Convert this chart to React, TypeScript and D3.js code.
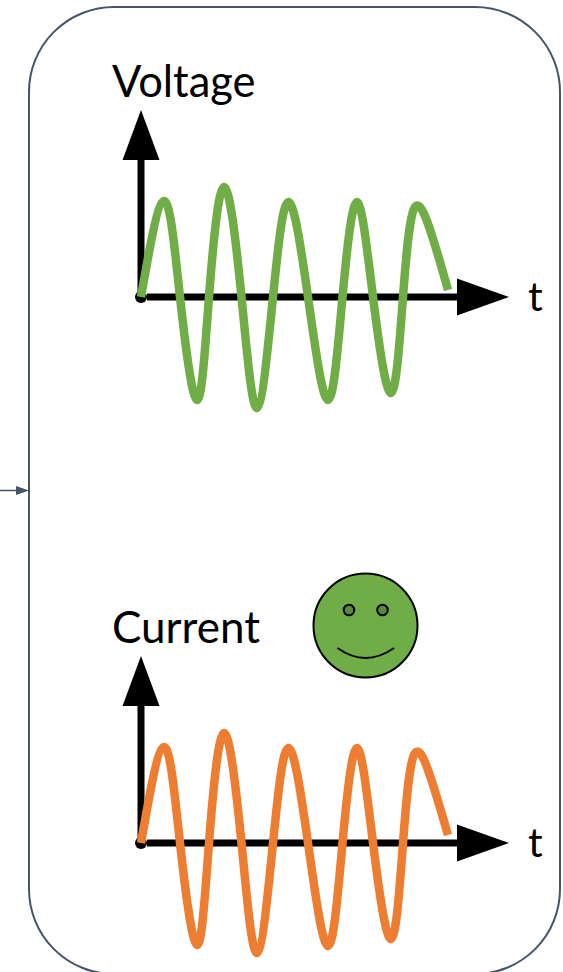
import React from "react";
import * as d3 from "d3";

// Wave samples: time offset and amplitude
const waveTime = [0, 23, 39, 56, 68, 83, 100.5, 116, 132, 147.5, 167, 187, 201.5, 216, 232, 250, 262, 274, 293, 307];
const voltageValues = [0, 96, 0, -103, 0, 110, 0, -111, 0, 95, 0, -103, 0, 95, 0, -96, 0, 90, 55, 7];
const currentValues = [0, 96, 0, -102, 0, 110, 0, -110, 0, 95, 0, -103, 0, 95, 0, -96, 0, 90, 55, 8];
const panelLabels = ["Voltage", "Current"];
const axisLabel = "t";

const W = 563;
const H = 972;
const FONT = "Lato, sans-serif";

const tx = d3.scaleLinear().domain([0, 307]).range([141, 448]);
const ampV = d3.scaleLinear().domain([-111, 110]).range([408, 187]);
const ampC = d3.scaleLinear().domain([-111, 110]).range([954, 733]);

function Panel({ y, values, color, label, labelY, labelSize }: { y: d3.ScaleLinear<number, number>; values: number[]; color: string; label: string; labelY: number; labelSize: number }) {
  const line = d3
    .line<number>()
    .x((_, i) => tx(waveTime[i]))
    .y((v) => y(v))
    .curve(d3.curveNatural);
  const ox = tx(0);
  const oy = y(0);
  return (
    <g>
      <circle cx={ox} cy={oy} r={6} fill="#000" />
      <line x1={ox} y1={oy} x2={ox} y2={oy - 140} stroke="#000" strokeWidth={7} />
      <path d={`M${ox - 18.5},${oy - 137}L${ox},${oy - 187}L${ox + 18.5},${oy - 137}Z`} fill="#000" />
      <line x1={ox + 6} y1={oy} x2={ox + 320} y2={oy} stroke="#000" strokeWidth={7} />
      <path d={`M${ox + 316},${oy - 18.5}L${ox + 368},${oy}L${ox + 316},${oy + 18.5}Z`} fill="#000" />
      <path d={line(values) ?? ""} fill="none" stroke={color} strokeWidth={8.5} strokeLinejoin="round" />
      <text x={112} y={labelY} fontFamily={FONT} fontSize={labelSize} fill="#000">{label}</text>
      <text x={528} y={oy + 14} fontFamily={FONT} fontSize={41} fill="#000">{axisLabel}</text>
    </g>
  );
}

export default function App() {
  return (
    <svg width={W} height={H} viewBox={`0 0 ${W} ${H}`} style={{ position: "absolute", left: 0, top: 0, display: "block" }}>
      <rect width={W} height={H} fill="#fff" />
      <rect x={29} y={7} width={531} height={967} rx={85} ry={85} fill="none" stroke="#44546a" strokeWidth={2} />
      <line x1={0} y1={490.5} x2={18} y2={490.5} stroke="#44546a" strokeWidth={1.5} />
      <path d="M16,486L29,490.5L16,495Z" fill="#44546a" />
      <Panel y={ampV} values={voltageValues} color="#70ad47" label={panelLabels[0]} labelY={97} labelSize={43.5} />
      <Panel y={ampC} values={currentValues} color="#ed7d31" label={panelLabels[1]} labelY={643} labelSize={44} />
      <circle cx={365.5} cy={625.5} r={52} fill="#70ad47" stroke="#000" strokeWidth={2} />
      <circle cx={349} cy={610} r={5.3} fill="#5a8a39" stroke="#000" strokeWidth={2} />
      <circle cx={382.5} cy={610} r={5.3} fill="#5a8a39" stroke="#000" strokeWidth={2} />
      <path d="M337.5,648Q365.5,668 394,648" fill="none" stroke="#000" strokeWidth={2} />
    </svg>
  );
}
